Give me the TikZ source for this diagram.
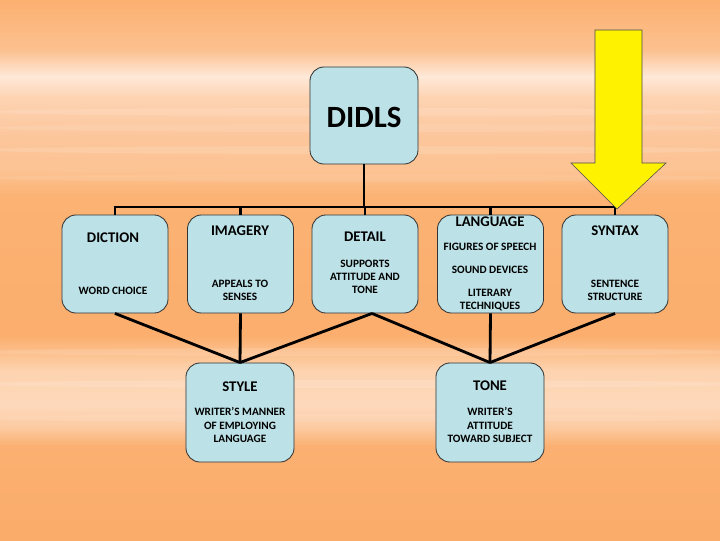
\documentclass[tikz,border=0pt]{standalone}
\usepackage{fontspec}
\setmainfont{Carlito}
\usepackage{xcolor}
\usepackage{tikz}
\usetikzlibrary{arrows.meta,positioning,calc}
\definecolor{card}{HTML}{BCE1E6}
\definecolor{bgA}{HTML}{FBB070}
\definecolor{bgB}{HTML}{FCC190}
\definecolor{bgC}{HTML}{FEE9D9}
\definecolor{bgD}{HTML}{FDD4B3}
\definecolor{bgE}{HTML}{FCC69C}
\definecolor{bgF}{HTML}{FCC393}
\definecolor{bgG}{HTML}{FBB273}
\definecolor{bgH}{HTML}{FBAE6D}
\definecolor{bgI}{HTML}{FDD3AF}
\definecolor{bgJ}{HTML}{FDD9BB}
\definecolor{bgK}{HTML}{FCC99F}
\definecolor{bgL}{HTML}{FBB071}
\definecolor{bgM}{HTML}{FAAC6A}
\tikzset{
  topic/.style={draw=black!80, fill=card, rounded corners=0.35cm,
                line width=0.6pt, minimum width=2.65cm, minimum height=2.45cm},
  head/.style={align=center, font=\fontsize{10.5}{12}\selectfont\bfseries, inner sep=0pt},
  sub/.style={align=center, font=\fontsize{8}{9.3}\selectfont\bfseries, inner sep=0pt},
  wire/.style={line width=2pt, line join=miter},
  pointer/.style={fill=yellow, draw=black!70, line width=0.4pt}
}

\begin{document}
\begin{tikzpicture}[x=0.025cm,y=-0.025cm]
  \useasboundingbox (0,0) rectangle (720,540);
  % background bands
  \foreach \ya/\yb/\ca/\cb in {0/50/bgA/bgB, 50/76/bgB/bgC, 76/96/bgC/bgD,
      96/135/bgD/bgE, 135/170/bgE/bgF, 170/195/bgF/bgG, 195/335/bgG/bgH,
      335/370/bgH/bgI, 370/405/bgI/bgJ, 405/428/bgJ/bgK, 428/445/bgK/bgL,
      445/540/bgL/bgM}
    \shade[top color=\ca, bottom color=\cb] (0,\ya) rectangle (720,\yb+1);
  \foreach \y/\w in {112/0.12, 128/0.1, 150/0.12, 178/0.08, 352/0.12, 384/0.14, 418/0.1}
    \fill[white, opacity=\w] (360,\y) ellipse (380 and 4);

  % the title
  \node[topic, minimum width=2.7cm, minimum height=2.425cm] (didls) at (364,115.5) {};
  \node[font=\fontsize{22}{24}\selectfont\bfseries, inner sep=0pt] (didls-t) at (364,117) {DIDLS};

  % first row
  \node[topic] (diction) at (115,264) {};
  \node[head] (diction-t) at (113,238) {DICTION};
  \node[sub] (diction-s) at (113,291) {WORD CHOICE};

  \node[topic] (imagery) at (240.5,264) {};
  \node[head] (imagery-t) at (240,231) {IMAGERY};
  \node[sub] (imagery-s) at (240,290.5) {APPEALS TO\\SENSES};

  \node[topic] (detail) at (365,264) {};
  \node[head] (detail-t) at (365,237) {DETAIL};
  \node[sub] (detail-s) at (365,277) {SUPPORTS\\ATTITUDE AND\\TONE};

  \node[topic] (lang) at (490.5,264) {};
  \node[head] (lang-t) at (490,222) {LANGUAGE};
  \node[sub] (lang-a) at (490,247) {FIGURES OF SPEECH};
  \node[sub] (lang-b) at (490,270) {SOUND DEVICES};
  \node[sub] (lang-c) at (490,300.5) {LITERARY\\TECHNIQUES};

  \node[topic] (syntax) at (615,264) {};
  \node[head] (syntax-t) at (615,231) {SYNTAX};
  \node[sub] (syntax-s) at (615,290.5) {SENTENCE\\STRUCTURE};

  % second row
  \node[topic, minimum width=2.7cm, minimum height=2.475cm] (style) at (240,412.5) {};
  \node[head] (style-t) at (240,387) {STYLE};
  \node[sub] (style-s) at (240,425) {WRITER’S MANNER\\OF EMPLOYING\\LANGUAGE};

  \node[topic, minimum width=2.7cm, minimum height=2.475cm] (tone) at (490,412.5) {};
  \node[head] (tone-t) at (490,386) {TONE};
  \node[sub] (tone-s) at (490,425) {WRITER’S\\ATTITUDE\\TOWARD SUBJECT};

  % tree lines
  \coordinate (bar) at (364,207);
  \draw[wire] (didls.south) -- (bar);
  \draw[wire] (diction.north) -- (diction.north |- bar) -- (syntax.north |- bar) -- (syntax.north);
  \foreach \n in {imagery,detail,lang}
    \draw[wire] (\n.north |- bar) -- (\n.north);

  \coordinate (dtip) at ([xshift=0.175cm]detail.south);
  \draw[wire] (diction.south) -- (style.north);
  \draw[wire] (imagery.south) -- (style.north);
  \draw[wire] (dtip) -- (style.north);
  \draw[wire] (dtip) -- (tone.north);
  \draw[wire] (lang.south) -- (tone.north);
  \draw[wire] (syntax.south) -- (tone.north);

  % yellow arrow
  \draw[pointer] (595,30) -- (642,30) -- (642,163) -- (666,163) -- (617,209)
    -- (571,163) -- (595,163) -- cycle;
\end{tikzpicture}
\end{document}
